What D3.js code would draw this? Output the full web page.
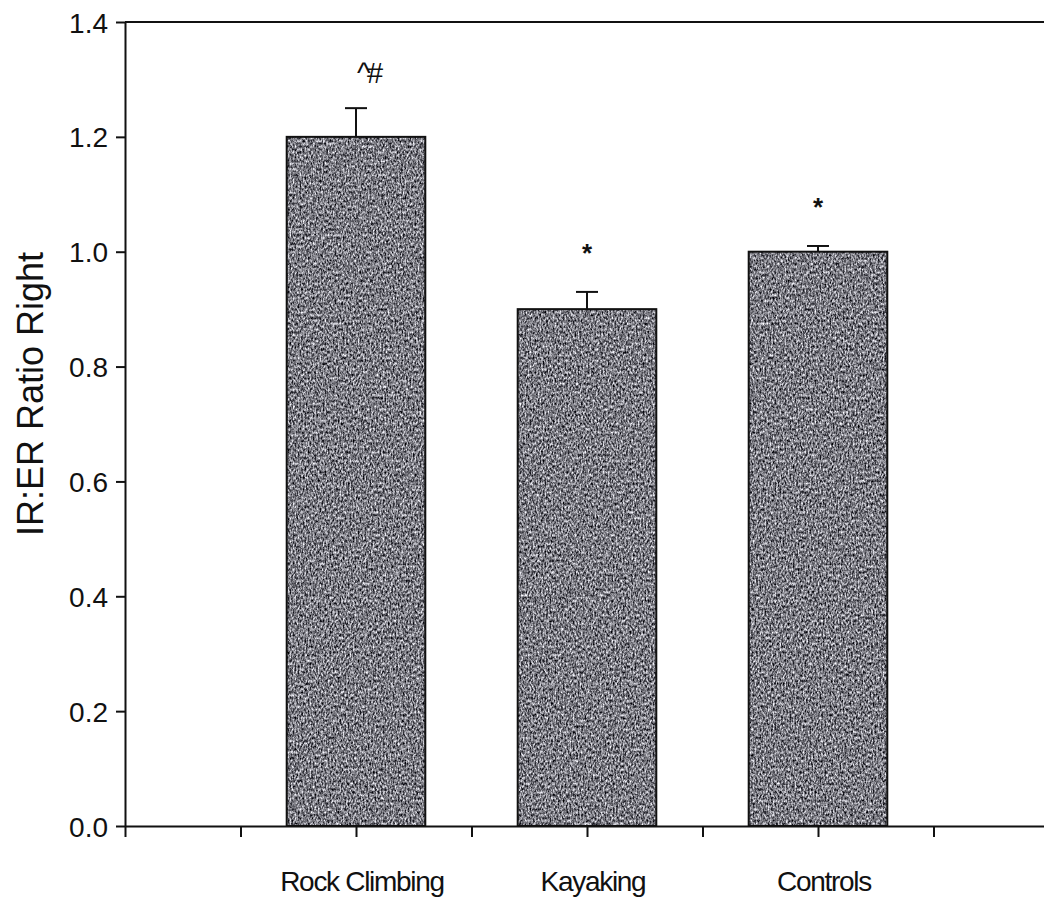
<!DOCTYPE html>
<html>
<head>
<meta charset="utf-8">
<script src="https://cdn.jsdelivr.net/npm/d3@7"></script>
<style>
  html, body { margin: 0; padding: 0; background: #ffffff; }
  svg { display: block; }
  text { font-family: "Liberation Sans", Arial, Helvetica, sans-serif; fill: #111; }
</style>
</head>
<body>
<svg id="chart" width="1044" height="906"></svg>
<script>
// ---- data ----
const categories = ["Rock Climbing", "Kayaking", "Controls"];
const positions = [2, 4, 6];              // category slots on the x axis
const values = [1.20, 0.90, 1.00];        // IR:ER ratio (mean)
const errors = [0.05, 0.03, 0.01];        // upper error
const annotations = ["^#", "*", "*"];
const yTicks = [0, 0.2, 0.4, 0.6, 0.8, 1.0, 1.2, 1.4];
const xTicks = [0, 1, 2, 3, 4, 5, 6, 7, 8];
const yTitle = "IR:ER Ratio Right";

// ---- layout ----
const W = 1044, H = 906;
const mLeft = 125, mTop = 22, mBottom = 826, mRight = 1049;
const svg = d3.select("#chart");

const x = d3.scaleLinear().domain([0, 8]).range([mLeft, mRight]);
const y = d3.scaleLinear().domain([0, 1.4]).range([mBottom, mTop]);
const barW = x(1.2) - x(0);

// noise texture filter for bars
const defs = svg.append("defs");
const f = defs.append("filter").attr("id", "noise")
  .attr("x", 0).attr("y", 0).attr("width", 1).attr("height", 1)
  .attr("color-interpolation-filters", "sRGB");
f.append("feTurbulence").attr("type", "fractalNoise")
  .attr("baseFrequency", "0.6 0.35").attr("numOctaves", 4).attr("seed", 5).attr("result", "t");
f.append("feColorMatrix").attr("in", "t").attr("type", "matrix")
  .attr("values",
    "1.5 0 0 0 -0.27 " +
    "1.5 0 0 0 -0.27 " +
    "1.5 0 0 0 -0.24 " +
    "0 0 0 0 1");

svg.append("rect").attr("width", W).attr("height", H).attr("fill", "#ffffff");

// bars (texture fill)
svg.append("g").selectAll("rect").data(values).join("rect")
  .attr("x", (d, i) => x(positions[i]) - barW / 2)
  .attr("y", d => y(d))
  .attr("width", barW)
  .attr("height", d => y(0) - y(d))
  .attr("fill", "#7a7a82")
  .attr("filter", "url(#noise)");
// bar outlines
svg.append("g").selectAll("rect").data(values).join("rect")
  .attr("x", (d, i) => x(positions[i]) - barW / 2)
  .attr("y", d => y(d))
  .attr("width", barW)
  .attr("height", d => y(0) - y(d))
  .attr("fill", "none")
  .attr("stroke", "#111")
  .attr("stroke-width", 2);

// error bars (upper only)
const eb = svg.append("g").attr("stroke", "#111").attr("stroke-width", 2);
values.forEach((v, i) => {
  const cx = x(positions[i]);
  eb.append("line").attr("x1", cx).attr("x2", cx).attr("y1", y(v)).attr("y2", y(v + errors[i]));
  eb.append("line").attr("x1", cx - 11).attr("x2", cx + 11).attr("y1", y(v + errors[i])).attr("y2", y(v + errors[i]));
});

// annotations
svg.append("g").selectAll("text").data(annotations).join("text")
  .attr("x", (d, i) => x(positions[i]) + (d.length > 1 ? 1 : 0))
  .attr("y", (d, i) => y(values[i] + errors[i]) - (d.length > 1 ? 25 : 30))
  .attr("text-anchor", d => d.length > 1 ? "start" : "middle")
  .attr("font-size", d => d.length > 1 ? 29 : 26)
  .attr("font-weight", d => d.length > 1 ? "normal" : "bold")
  .attr("letter-spacing", d => d.length > 1 ? -3.5 : 0)
  .text(d => d);

// top border
svg.append("line").attr("x1", mLeft).attr("x2", W).attr("y1", y(1.4)).attr("y2", y(1.4))
  .attr("stroke", "#111").attr("stroke-width", 2);

// y axis
const yAxis = svg.append("g").attr("transform", `translate(${mLeft},0)`)
  .call(d3.axisLeft(y).tickValues(yTicks).tickFormat(d3.format(".1f")).tickSize(9).tickSizeOuter(0));
yAxis.select(".domain").attr("stroke", "#111").attr("stroke-width", 2);
yAxis.selectAll(".tick line").attr("stroke", "#111").attr("stroke-width", 2);
yAxis.selectAll(".tick text").attr("font-size", 28).attr("fill", "#111")
  .attr("font-family", "Liberation Sans, Arial, sans-serif").attr("x", -17).attr("dy", "0.36em");

// x axis
const xAxis = svg.append("g").attr("transform", `translate(0,${mBottom})`)
  .call(d3.axisBottom(x).tickValues(xTicks).tickFormat("").tickSize(11).tickSizeOuter(0));
xAxis.select(".domain").attr("stroke", "#111").attr("stroke-width", 2);
xAxis.selectAll(".tick line").attr("stroke", "#111").attr("stroke-width", 2);

// category labels
svg.append("g").selectAll("text").data(categories).join("text")
  .attr("x", (d, i) => x(positions[i]) + 6)
  .attr("y", 891)
  .attr("text-anchor", "middle")
  .attr("font-size", 28)
  .attr("letter-spacing", -1.3)
  .text(d => d);

// y title
svg.append("text")
  .attr("transform", `translate(43,${(y(0.6) + y(0.8)) / 2 - 30}) rotate(-90)`)
  .attr("text-anchor", "middle")
  .attr("font-size", 36)
  .attr("fill", "#222")
  .text(yTitle);
</script>
</body>
</html>
